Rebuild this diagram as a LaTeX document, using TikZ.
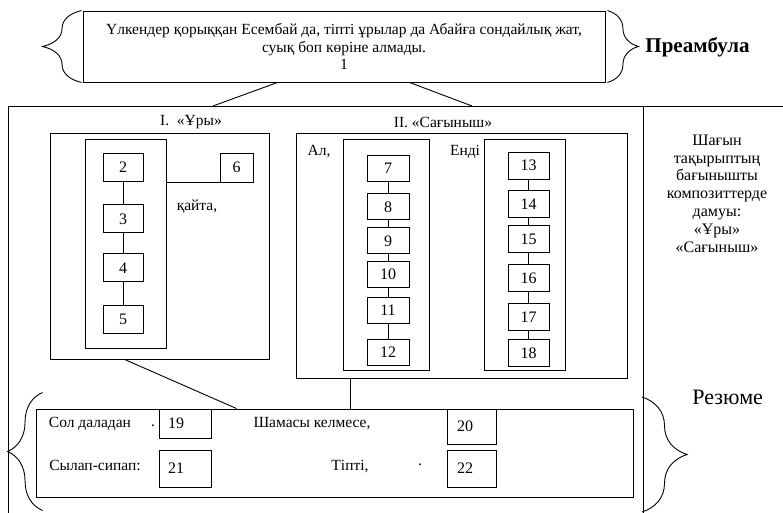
\documentclass[tikz,border=0pt]{standalone}
\usepackage{fontspec}
\setmainfont{Liberation Serif}
\usetikzlibrary{positioning, decorations.pathreplacing}

\begin{document}
\begin{tikzpicture}[
      x=1pt, y=-1pt,
      line width=0.9pt,
      node distance=8pt,
      box/.style={
        draw, inner sep=0pt, minimum width=40pt, minimum height=28pt,
        font=\fontsize{16}{17}\selectfont
      },
      frame/.style={draw, inner sep=0pt},
      tag/.style={
        draw, inner xsep=9pt, inner ysep=0pt, text width=34pt,
        align=left, font=\fontsize{16}{17}\selectfont
      },
      lbl/.style={inner sep=0pt, font=\fontsize{15.5}{17.8}\selectfont},
      brc/.style={decorate, decoration={brace, amplitude=#1}}
    ]
    \useasboundingbox (0,0) rectangle (783,513);
    % preamble box
    \node[frame, minimum width=522pt, minimum height=71pt, align=center,
      font=\fontsize{15.5}{17.5}\selectfont] (pre) at (344,46.5)
      {Үлкендер қорыққан Есембай да, тіпті ұрылар да Абайға сондайлық жат,\\
       суық боп көріне алмады.\\1};
    \draw[brc=39pt] ([xshift=-1pt]pre.south west) -- ([xshift=-1pt]pre.north west);
    \draw[brc=31pt] ([xshift=2pt]pre.north east) -- ([xshift=2pt]pre.south east);
    \node[lbl, anchor=west, font=\fontsize{21}{22}\selectfont\bfseries]
      (preamb) at (645,47) {Преамбула};
    % outer frame
    \draw (8,513) -- (8,106) -- (783,106);
    \draw (643,106) -- (643,513);
    \coordinate (t1) at (213,106);
    \coordinate (t2) at (472,106);
    \draw ([xshift=195pt]pre.south west) -- (t1);
    \draw ([xshift=327pt]pre.south west) -- (t2);
    % I
    \node[lbl] (ttl1) at (191,122) {I. \ «Ұры»};
    \node[frame, minimum width=219pt, minimum height=226pt] (ury) at (159.5,246) {};
    \node[frame, minimum width=81pt, minimum height=209pt] (colu) at (125.5,243.5) {};
    \node[box] (b2) at (123,167.5) {2};
    \node[box, below=22.5pt of b2] (b3) {3};
    \node[box, below=20pt of b3] (b4) {4};
    \node[box, below=23pt of b4] (b5) {5};
    \node[box, minimum width=33pt, minimum height=29pt] (b6) at (236.5,167.5) {6};
    \node[lbl] (qayta) at (197,207) {қайта,};
    \draw (b2) -- (b3);
    \draw (b3) -- (b4);
    \draw (b4) -- (b5);
    \draw (colu.east |- b6.south west) -- (b6.south west);
    % II
    \node[lbl] (ttl2) at (443,122) {II. «Сағыныш»};
    \node[frame, minimum width=331pt, minimum height=245pt] (sag) at (461.5,255.5) {};
    \node[frame, minimum width=86pt, minimum height=231pt] (cola) at (386,254.5) {};
    \node[frame, minimum width=81pt, minimum height=231pt] (colb) at (524.5,254.5) {};
    \node[lbl] (al) at (319,152) {Ал,};
    \node[lbl] (endi) at (465,152) {Енді};
    \node[box, minimum width=42pt, minimum height=26pt] (b7) at (388,168) {7};
    \node[box, minimum width=42pt, minimum height=26pt, below=12pt of b7] (b8) {8};
    \node[box, minimum width=42pt, minimum height=26pt, below=7pt of b8] (b9) {9};
    \node[box, minimum width=42pt, minimum height=26pt, below=7pt of b9] (b10) {10};
    \node[box, minimum width=42pt, minimum height=26pt, below=9pt of b10] (b11) {11};
    \node[box, minimum width=42pt, minimum height=26pt, below=15pt of b11] (b12) {12};
    \draw (b7) -- (b8);
    \draw (b8) -- (b9);
    \draw (b9) -- (b10);
    \draw (b10) -- (b11);
    \draw (b11) -- (b12);
    \node[box, minimum width=41pt, minimum height=27pt] (b13) at (528.5,165.5) {13};
    \node[box, minimum width=41pt, minimum height=27pt, below=11pt of b13] (b14) {14};
    \node[box, minimum width=41pt, minimum height=27pt, below=7pt of b14] (b15) {15};
    \node[box, minimum width=41pt, minimum height=27pt, below=11pt of b15] (b16) {16};
    \node[box, minimum width=41pt, minimum height=27pt, below=11pt of b16] (b17) {17};
    \node[box, minimum width=41pt, minimum height=27pt, below=8pt of b17] (b18) {18};
    \draw (b13) -- (b14);
    \draw (b14) -- (b15);
    \draw (b15) -- (b16);
    \draw (b16) -- (b17);
    \draw (b17) -- (b18);
    % right column
    \node[lbl, align=center, font=\fontsize{16}{17.8}\selectfont] (theme) at (717,193.5)
      {Шағын\\тақырыптың\\бағынышты\\композиттерде\\дамуы:\\«Ұры»\\«Сағыныш»};
    % resume
    \node[frame, minimum width=597pt, minimum height=88pt] (rez) at (334.5,453) {};
    \draw ([xshift=75pt]ury.south west) -- ([xshift=201pt]rez.north west);
    \draw ([xshift=55pt]sag.south west) -- ([xshift=315pt]rez.north west);
    \draw[brc=35pt] ([xshift=7pt, yshift=-13pt]rez.south west)
      -- ([xshift=7pt, yshift=16pt]rez.north west);
    \coordinate (r1) at (642,397);
    \coordinate (r2) at (642,512);
    \draw[brc=45pt] (r1) -- (r2);
    \node[lbl, anchor=west, font=\fontsize{22}{23}\selectfont] (resume) at (692,397) {Резюме};
    \node[tag, minimum height=29pt] (b19) at (185,423.5) {19};
    \node[tag, minimum height=37pt] (b21) at (185,468.5) {21};
    \node[tag, inner xsep=10pt, text width=29pt, minimum height=35pt] (b20) at (471.5,426.5) {20};
    \node[tag, inner xsep=10pt, text width=29pt, minimum height=37pt] (b22) at (471.5,468.5) {22};
    \node[lbl] (sol) at (90,424) {Сол даладан};
    \node[lbl] (dot1) at (153,426) {.};
    \node[lbl] (sham) at (312,424) {Шамасы келмесе,};
    \node[lbl] (sylap) at (95,465) {Сылап-сипап:};
    \node[lbl] (tipti) at (350,467) {Тіпті,};
    \node[lbl] (dot2) at (420,465) {.};
  \end{tikzpicture}
\end{document}
